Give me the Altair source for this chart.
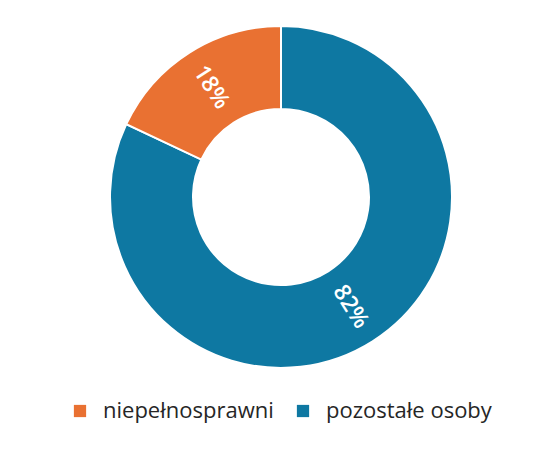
import altair as alt
import pandas as pd

categories = ["niepełnosprawni", "pozostałe osoby"]
values = [18, 82]
labels = ["18%", "82%"]
stack_order = [2, 1]
colors = ["#E97132", "#0E78A2"]

df = pd.DataFrame({"cat": categories, "val": values, "label": labels, "ord": stack_order})
df = df.sort_values("ord")
total = df["val"].sum()
cum = df["val"].cumsum() - df["val"] / 2
mid_deg = cum / total * 360
ang = (mid_deg + 90) % 360
ang = ang.where(~((ang > 90) & (ang < 270)), ang - 180)
df["ang"] = ang.values

base = alt.Chart(df).encode(
    theta=alt.Theta("val:Q", stack=True),
    order=alt.Order("ord:Q"),
)

arc = base.mark_arc(outerRadius=171, innerRadius=88, stroke="white", strokeWidth=2).encode(
    x=alt.value(273),
    y=alt.value(189),
    color=alt.Color(
        "cat:N",
        scale=alt.Scale(domain=categories, range=colors),
        legend=alt.Legend(
            title=None,
            orient="none",
            direction="horizontal",
            legendX=61,
            legendY=392,
            symbolType="square",
            symbolSize=150,
            symbolStrokeWidth=0,
            labelFont="Open Sans",
            labelFontSize=22,
            labelColor="#262626",
            labelOffset=12,
            columnPadding=18,
            labelLimit=400,
        ),
    ),
)

text = base.mark_text(radius=130, font="Open Sans", fontSize=23, fontWeight=600, color="white").encode(
    x=alt.value(273),
    y=alt.value(189),
    text="label:N",
    angle=alt.Angle("ang:Q", scale=None),
)

chart = (arc + text).properties(width=520, height=420, padding=0).configure_view(stroke=None)

chart.save("out.html", embed_options={"renderer": "svg", "actions": False})
